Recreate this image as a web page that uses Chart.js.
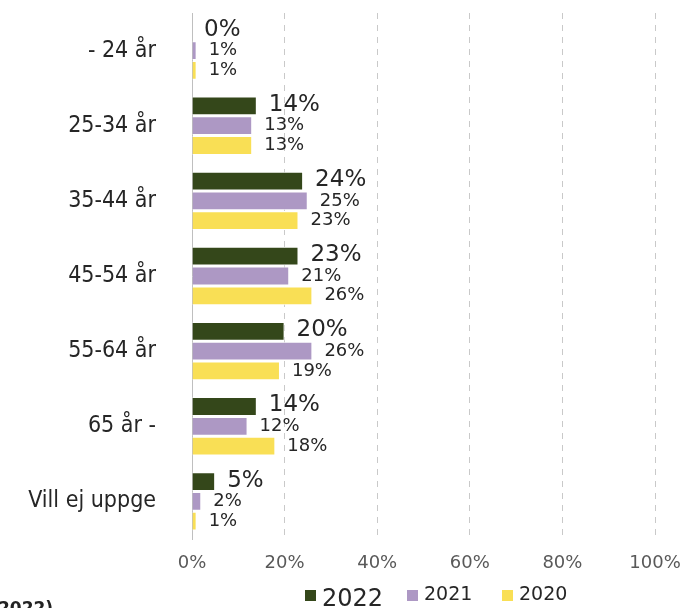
<!DOCTYPE html>
<html>
<head>
<meta charset="utf-8">
<script src="https://cdn.jsdelivr.net/npm/chart.js@4"></script>
<style>
  html, body { margin: 0; padding: 0; background: #fff; }
  #wrap { width: 684px; height: 608px; position: relative; }
</style>
</head>
<body>
<div id="wrap"><canvas id="myChart" width="684" height="608"></canvas></div>
<script>
// data
const kategorier = ['- 24 år', '25-34 år', '35-44 år', '45-54 år', '55-64 år', '65 år -', 'Vill ej uppge'];
const ar = ['2022', '2021', '2020'];
const varden2022 = [0, 14, 24, 23, 20, 14, 5];
const varden2021 = [1, 13, 25, 21, 26, 12, 2];
const varden2020 = [1, 13, 23, 26, 19, 18, 1];
const xTicks = [0, 20, 40, 60, 80, 100];

const farger = ['#34471a', '#ad98c4', '#f9df55'];
const FONT = '"DejaVu Sans", sans-serif';

// etiketter vid staplarnas slut + egen legend
const etikettPlugin = {
  id: 'etiketter',
  afterDatasetsDraw(chart) {
    const ctx = chart.ctx;
    ctx.save();
    ctx.fillStyle = '#262626';
    ctx.textBaseline = 'middle';
    ctx.textAlign = 'left';
    chart.data.datasets.forEach((ds, i) => {
      const meta = chart.getDatasetMeta(i);
      ctx.font = (i === 0 ? '23px ' : '18px ') + FONT;
      meta.data.forEach((bar, j) => {
        ctx.fillText(ds.data[j] + '%', bar.x + 12, bar.y + (i === 0 ? -1 : 0));
      });
    });

    // legend
    const pos = [305, 407, 502];
    const storlek = [24, 19, 19];
    chart.data.datasets.forEach((ds, i) => {
      ctx.fillStyle = ds.backgroundColor;
      ctx.fillRect(pos[i], 590, 11, 11);
      ctx.fillStyle = '#262626';
      ctx.font = storlek[i] + 'px ' + FONT;
      ctx.textBaseline = 'alphabetic';
      ctx.fillText(ds.label, pos[i] + 17, i === 0 ? 606 : 600);
    });

    // avklippt text nere till vänster
    ctx.font = 'bold 17px ' + FONT;
    ctx.fillStyle = '#222';
    ctx.fillText('2022)', -2, 614);
    ctx.restore();
  }
};

const ctx = document.getElementById('myChart');

new Chart(ctx, {
  type: 'bar',
  data: {
    labels: kategorier,
    datasets: [
      { label: ar[0], data: varden2022, backgroundColor: farger[0] },
      { label: ar[1], data: varden2021, backgroundColor: farger[1] },
      { label: ar[2], data: varden2020, backgroundColor: farger[2] }
    ]
  },
  options: {
    indexAxis: 'y',
    responsive: false,
    animation: false,
    devicePixelRatio: 1,
    layout: { padding: { top: 13, right: 4, left: 0, bottom: 0 } },
    datasets: {
      bar: {
        categoryPercentage: 0.79,
        barPercentage: 0.95,
        borderWidth: 1,
        borderColor: '#ffffff'
      }
    },
    plugins: {
      legend: { display: false },
      tooltip: { enabled: false }
    },
    scales: {
      x: {
        min: 0,
        max: 100,
        afterBuildTicks(scale) {
          scale.ticks = xTicks.map(v => ({ value: v }));
        },
        afterFit(scale) {
          scale.height = 69;
          scale.paddingRight = 29;
        },
        ticks: {
          callback: v => v + '%',
          color: '#595959',
          font: { family: FONT, size: 18 },
          padding: 14
        },
        grid: {
          color: c => (c.index === 0 ? 'rgba(0,0,0,0)' : '#c9c9c9'),
          lineWidth: 1,
          drawTicks: false
        },
        border: { display: false, dash: [6, 6] }
      },
      y: {
        afterFit(scale) {
          scale.width = 192;
          scale.paddingTop = 0;
          scale.paddingBottom = 0;
        },
        ticks: {
          color: '#262626',
          font: { family: FONT, size: 23, weight: 'condensed' },
          padding: 36
        },
        grid: { display: false, drawTicks: false },
        border: { display: true, color: '#bfbfbf', width: 1 }
      }
    }
  },
  plugins: [etikettPlugin]
});
</script>
</body>
</html>
